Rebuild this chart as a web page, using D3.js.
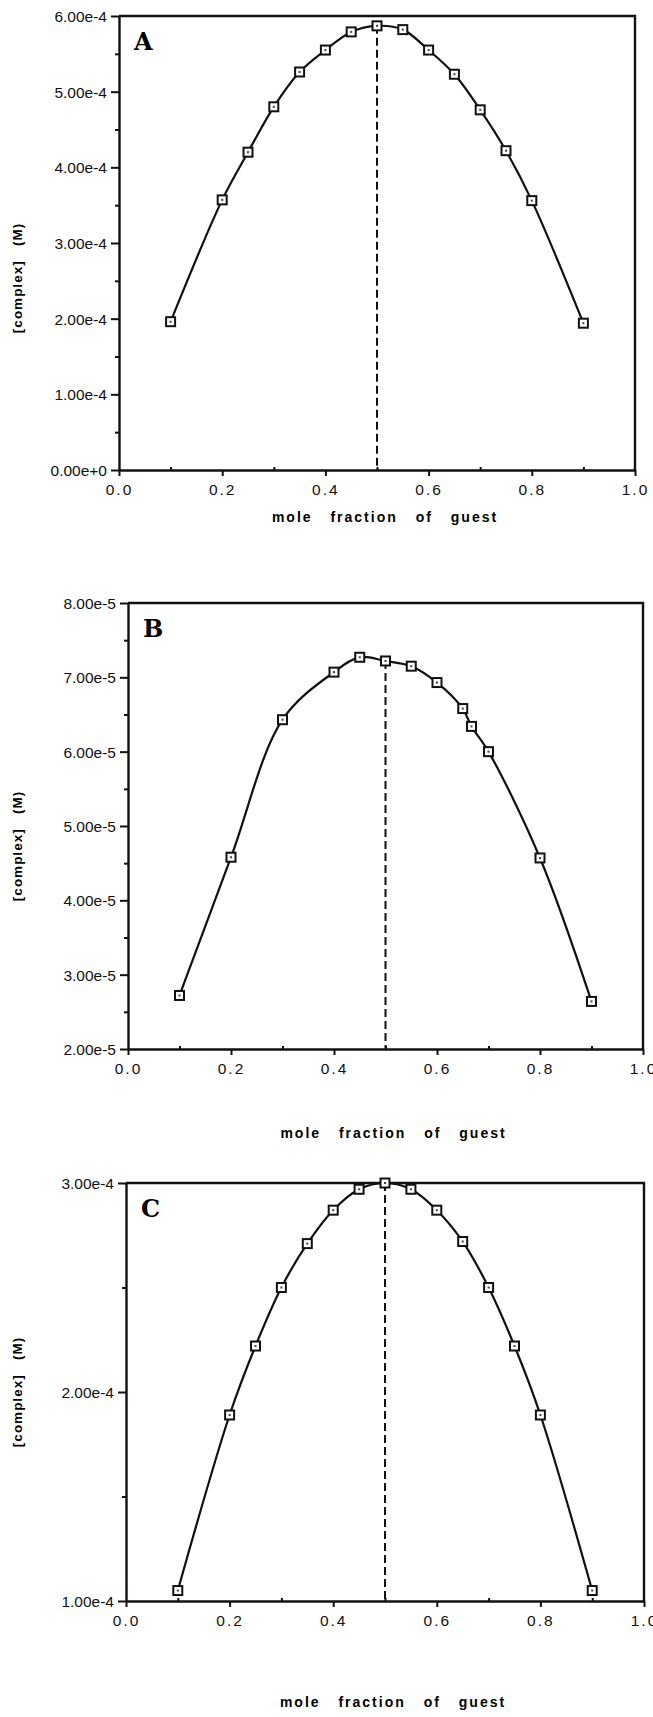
<!DOCTYPE html>
<html>
<head>
<meta charset="utf-8">
<script src="https://cdn.jsdelivr.net/npm/d3@7"></script>
<style>
  body { margin: 0; background: #fff; }
  svg { display: block; }
  .tick text { font-family: "Liberation Sans", Arial, sans-serif; fill: #111; }
</style>
</head>
<body>
<div id="chart"></div>
<script>
// x tick labels (shared by all three panels)
var xTickValues = [0, 0.2, 0.4, 0.6, 0.8, 1.0];
var xTickLabels = ["0.0", "0.2", "0.4", "0.6", "0.8", "1.0"];
var xMinorValues = [0.1, 0.3, 0.5, 0.7, 0.9];

// Panel A data
var fractionA = [0.1, 0.2, 0.25, 0.3, 0.35, 0.4, 0.45, 0.5, 0.55, 0.6, 0.65, 0.7, 0.75, 0.8, 0.9];
var complexA = [1.96e-4, 3.57e-4, 4.20e-4, 4.80e-4, 5.26e-4, 5.55e-4, 5.79e-4, 5.87e-4, 5.82e-4, 5.55e-4, 5.23e-4, 4.76e-4, 4.22e-4, 3.56e-4, 1.94e-4];
var yTicksA = [0, 1e-4, 2e-4, 3e-4, 4e-4, 5e-4, 6e-4];
var yLabelsA = ["0.00e+0", "1.00e-4", "2.00e-4", "3.00e-4", "4.00e-4", "5.00e-4", "6.00e-4"];
var yMinorA = [0.5e-4, 1.5e-4, 2.5e-4, 3.5e-4, 4.5e-4, 5.5e-4];

// Panel B data
var fractionB = [0.1, 0.2, 0.3, 0.4, 0.45, 0.5, 0.55, 0.6, 0.65, 0.667, 0.7, 0.8, 0.9];
var complexB = [2.72e-5, 4.58e-5, 6.43e-5, 7.07e-5, 7.27e-5, 7.22e-5, 7.15e-5, 6.93e-5, 6.58e-5, 6.34e-5, 6.00e-5, 4.57e-5, 2.64e-5];
var yTicksB = [2e-5, 3e-5, 4e-5, 5e-5, 6e-5, 7e-5, 8e-5];
var yLabelsB = ["2.00e-5", "3.00e-5", "4.00e-5", "5.00e-5", "6.00e-5", "7.00e-5", "8.00e-5"];
var yMinorB = [2.5e-5, 3.5e-5, 4.5e-5, 5.5e-5, 6.5e-5, 7.5e-5];

// Panel C data
var fractionC = [0.1, 0.2, 0.25, 0.3, 0.35, 0.4, 0.45, 0.5, 0.55, 0.6, 0.65, 0.7, 0.75, 0.8, 0.9];
var complexC = [1.05e-4, 1.89e-4, 2.22e-4, 2.50e-4, 2.71e-4, 2.87e-4, 2.97e-4, 3.00e-4, 2.97e-4, 2.87e-4, 2.72e-4, 2.50e-4, 2.22e-4, 1.89e-4, 1.05e-4];
var yTicksC = [1e-4, 2e-4, 3e-4];
var yLabelsC = ["1.00e-4", "2.00e-4", "3.00e-4"];
var yMinorC = [1.5e-4, 2.5e-4];

var svgWidth = 653;
var svgHeight = 1717;

var svg = d3.select("#chart")
  .append("svg")
  .attr("width", svgWidth)
  .attr("height", svgHeight);

// layout of each panel on the page
var panels = [
  { letter: "A", xs: fractionA, ys: complexA, yTicks: yTicksA, yLabels: yLabelsA, yMinor: yMinorA,
    left: 119, right: 635, top: 16, bottom: 470, titleY: 522, labelY: 278 },
  { letter: "B", xs: fractionB, ys: complexB, yTicks: yTicksB, yLabels: yLabelsB, yMinor: yMinorB,
    left: 128, right: 643, top: 603, bottom: 1049, titleY: 1138, labelY: 846 },
  { letter: "C", xs: fractionC, ys: complexC, yTicks: yTicksC, yLabels: yLabelsC, yMinor: yMinorC,
    left: 126, right: 644, top: 1183, bottom: 1601, titleY: 1707, labelY: 1392 }
];

panels.forEach(function(p) {
  var width = p.right - p.left;
  var height = p.bottom - p.top;

  var g = svg.append("g")
    .attr("transform", `translate(${p.left}, ${p.top})`);

  var xScale = d3.scaleLinear().domain([0, 1]).range([0, width]);
  var yScale = d3.scaleLinear()
    .domain([p.yTicks[0], p.yTicks[p.yTicks.length - 1]])
    .range([height, 0]);

  // frame (top and right)
  g.append("path")
    .attr("d", `M0,0H${width}V${height}`)
    .attr("fill", "none")
    .attr("stroke", "#111")
    .attr("stroke-width", 2.4);

  // minor ticks
  var yMinorAxis = d3.axisLeft(yScale).tickValues(p.yMinor).tickSize(4).tickFormat("").tickSizeOuter(0);
  g.append("g").call(yMinorAxis).call(s => s.select(".domain").remove());

  var xMinorAxis = d3.axisTop(xScale).tickValues(xMinorValues).tickSize(3).tickFormat("").tickSizeOuter(0);
  g.append("g").attr("transform", `translate(0, ${height})`)
    .call(xMinorAxis).call(s => s.select(".domain").remove());

  // major axes
  var xAxis = d3.axisBottom(xScale)
    .tickValues(xTickValues)
    .tickFormat((d, i) => xTickLabels[i])
    .tickSize(6)
    .tickPadding(8)
    .tickSizeOuter(0);

  var yAxis = d3.axisLeft(yScale)
    .tickValues(p.yTicks)
    .tickFormat((d, i) => p.yLabels[i])
    .tickSize(8)
    .tickPadding(4)
    .tickSizeOuter(0);

  var xg = g.append("g")
    .attr("transform", `translate(0, ${height})`)
    .call(xAxis);
  xg.selectAll("text").attr("font-size", 15.5).attr("letter-spacing", "2px");

  var yg = g.append("g").call(yAxis);
  yg.selectAll("text").attr("font-size", 15.5).attr("dy", "0.35em");

  g.selectAll(".domain").attr("stroke", "#111").attr("stroke-width", 2.4);
  g.selectAll(".tick line").attr("stroke", "#111").attr("stroke-width", 2);

  // dashed line at x = 0.5
  var midVal = p.ys[p.xs.indexOf(0.5)];
  g.append("line")
    .attr("x1", xScale(0.5))
    .attr("x2", xScale(0.5))
    .attr("y1", yScale(midVal))
    .attr("y2", height)
    .attr("stroke", "#111")
    .attr("stroke-width", 2)
    .attr("stroke-dasharray", "8,4");

  // curve through the points
  var line = d3.line()
    .x((d, i) => xScale(p.xs[i]))
    .y(d => yScale(d))
    .curve(d3.curveCatmullRom.alpha(0.5));

  g.append("path")
    .datum(p.ys)
    .attr("d", line)
    .attr("fill", "none")
    .attr("stroke", "#111")
    .attr("stroke-width", 2.2);

  // square markers with a small dot inside
  var marks = g.selectAll(".mark")
    .data(p.ys)
    .enter()
    .append("g")
    .attr("class", "mark")
    .attr("transform", (d, i) => `translate(${xScale(p.xs[i])}, ${yScale(d)})`);

  marks.append("rect")
    .attr("x", -4.5)
    .attr("y", -4.5)
    .attr("width", 9)
    .attr("height", 9)
    .attr("fill", "#fff")
    .attr("stroke", "#111")
    .attr("stroke-width", 2);

  marks.append("rect")
    .attr("x", -1)
    .attr("y", -1)
    .attr("width", 2)
    .attr("height", 2)
    .attr("fill", "#444");

  // panel letter
  g.append("text")
    .attr("x", 15)
    .attr("y", 34)
    .attr("font-family", "'DejaVu Serif', 'Liberation Serif', serif")
    .attr("font-weight", "bold")
    .attr("font-size", 24)
    .text(p.letter);

  // y axis title
  svg.append("text")
    .attr("transform", `translate(22, ${p.labelY}) rotate(-90)`)
    .attr("text-anchor", "middle")
    .attr("font-family", "'Liberation Sans', Arial, sans-serif")
    .attr("font-weight", "bold")
    .attr("font-size", 13.5)
    .attr("letter-spacing", "1px")
    .style("white-space", "pre")
    .text("[complex]   (M)");

  // x axis title
  svg.append("text")
    .attr("x", p.left + width * 0.5 + 8)
    .attr("y", p.titleY)
    .attr("text-anchor", "middle")
    .attr("font-family", "'Liberation Sans', Arial, sans-serif")
    .attr("font-weight", "bold")
    .attr("font-size", 14)
    .attr("letter-spacing", "2px")
    .attr("word-spacing", "12px")
    .text("mole fraction of guest");
});
</script>
</body>
</html>
